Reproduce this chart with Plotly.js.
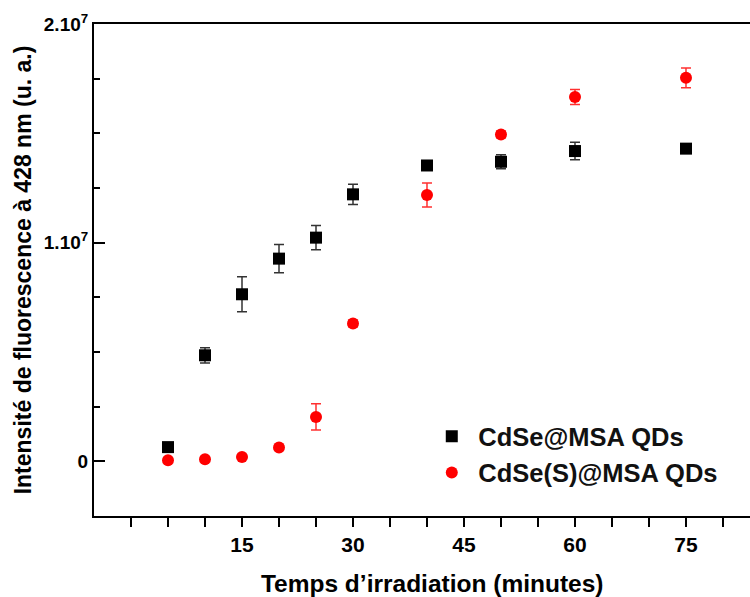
<!DOCTYPE html>
<html>
<head>
<meta charset="utf-8">
<script src="https://cdn.plot.ly/plotly-3.0.1.min.js"></script>
<style>html,body{margin:0;padding:0;background:#fff;}#chart{width:750px;height:597px;}</style>
</head>
<body>
<div id="chart"></div>
<script>
// Irradiation time (minutes)
const timeMin = [5, 10, 15, 20, 25, 30, 40, 50, 60, 75];
// CdSe@MSA QDs intensity and error
const cdseY   = [0.065e7, 0.485e7, 0.764e7, 0.927e7, 1.023e7, 1.221e7, 1.353e7, 1.370e7, 1.419e7, 1.430e7];
const cdseErr = [0.0,     0.035e7, 0.080e7, 0.065e7, 0.055e7, 0.046e7, 0.012e7, 0.032e7, 0.040e7, 0.020e7];
// CdSe(S)@MSA QDs intensity and error
const cdsesY   = [0.005e7, 0.010e7, 0.020e7, 0.063e7, 0.203e7, 0.630e7, 1.218e7, 1.495e7, 1.666e7, 1.754e7];
const cdsesErr = [0.0,     0.0,     0.0,     0.0,     0.060e7, 0.015e7, 0.055e7, 0.015e7, 0.034e7, 0.045e7];
const seriesNames = ['CdSe@MSA QDs', 'CdSe(S)@MSA QDs'];
// Axis ticks
const xTickVals = [15, 30, 45, 60, 75];
const xTickText = ['15', '30', '45', '60', '75'];
const xMinorVals = [0, 5, 10, 20, 25, 35, 40, 50, 55, 65, 70, 80];
const yTickVals = [0, 1e7, 2e7];
const yTickText = ['0', '1.10<sup>7</sup>', '2.10<sup>7</sup>'];
const yMinorVals = [0.25e7, 0.5e7, 0.75e7, 1.25e7, 1.5e7, 1.75e7];

const FONT = 'Liberation Sans, Arial, sans-serif';

const traces = [
  {
    x: timeMin, y: cdseY, name: seriesNames[0], type: 'scatter', mode: 'markers',
    marker: {symbol: 'square', size: 12, color: '#000000'},
    error_y: {type: 'data', array: cdseErr, visible: true, color: '#333333', thickness: 1.5, width: 5}
  },
  {
    x: timeMin, y: cdsesY, name: seriesNames[1], type: 'scatter', mode: 'markers',
    marker: {symbol: 'circle', size: 12, color: '#ff0000'},
    error_y: {type: 'data', array: cdsesErr, visible: true, color: '#ff3030', thickness: 1.5, width: 5}
  }
];

const layout = {
  width: 750, height: 597,
  margin: {l: 94, r: 0, t: 24, b: 81},
  paper_bgcolor: '#ffffff', plot_bgcolor: '#ffffff',
  font: {family: FONT, color: '#000000'},
  showlegend: true,
  legend: {
    x: 0.505, y: 0.209, xanchor: 'left', yanchor: 'top',
    font: {family: FONT, size: 25.5, weight: 'bold', color: '#111'},
    bgcolor: 'rgba(0,0,0,0)', itemwidth: 43
  },
  xaxis: {
    range: [-5, 83.65], showgrid: false, zeroline: false,
    showline: true, linecolor: '#000', linewidth: 2, mirror: true,
    ticks: 'outside', ticklen: 9, tickwidth: 2, tickcolor: '#000',
    tickmode: 'array', tickvals: xTickVals, ticktext: xTickText,
    tickfont: {family: FONT, size: 21, weight: 'bold'},
    minor: {tickmode: 'array', tickvals: xMinorVals, ticks: 'outside', ticklen: 9, tickwidth: 2, tickcolor: '#000', showgrid: false},
    title: {text: '&nbsp;&nbsp;&nbsp;Temps d’irradiation (minutes)', font: {family: FONT, size: 24.5, weight: 'bold'}, standoff: 20}
  },
  yaxis: {
    range: [-0.25e7, 2e7], showgrid: false, zeroline: false,
    showline: true, linecolor: '#000', linewidth: 2, mirror: false,
    ticks: 'inside', ticklen: 11, tickwidth: 2, tickcolor: '#000',
    tickmode: 'array', tickvals: yTickVals, ticktext: yTickText,
    tickfont: {family: FONT, size: 19, weight: 'bold'},
    minor: {tickmode: 'array', tickvals: yMinorVals, ticks: 'inside', ticklen: 6, tickwidth: 2, tickcolor: '#000', showgrid: false},
    title: {text: 'Intensité de fluorescence à 428 nm (u. a.)', font: {family: FONT, size: 23, weight: 'bold'}, standoff: 6}
  }
};

Plotly.newPlot('chart', traces, layout, {displayModeBar: false, staticPlot: true});
</script>
</body>
</html>
